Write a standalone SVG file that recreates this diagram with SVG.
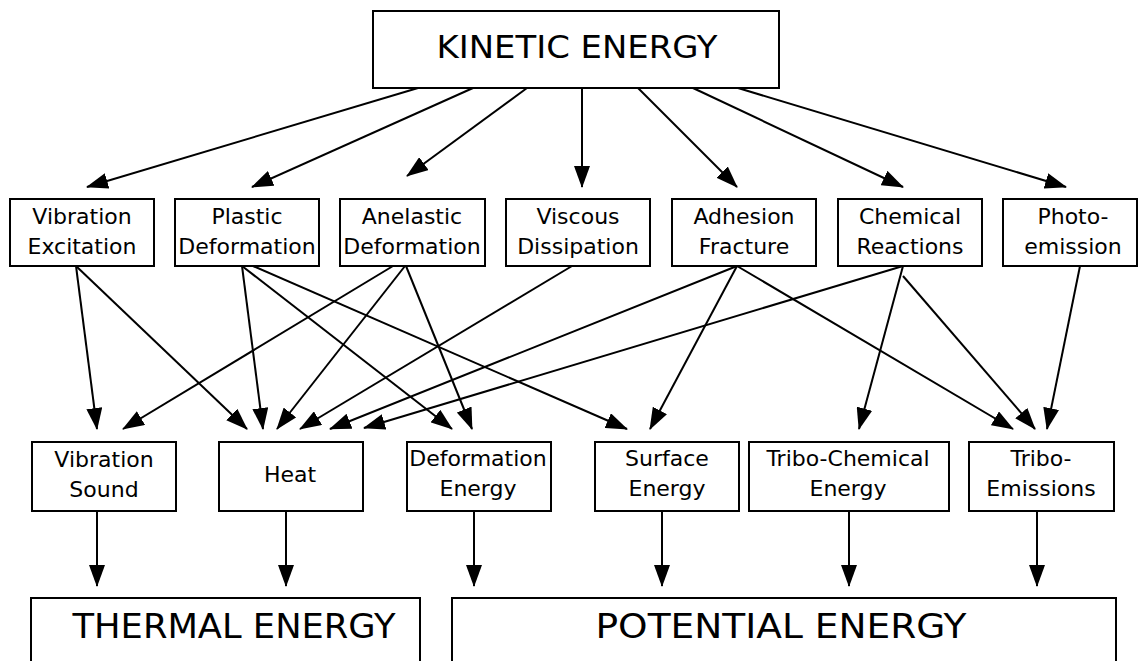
<svg xmlns="http://www.w3.org/2000/svg" width="1140" height="661" viewBox="0 0 1140 661">
<style>
.box{fill:#fff;stroke:#000;stroke-width:2}
.t{font-family:"DejaVu Sans","Liberation Sans",sans-serif;font-size:22px;fill:#000;text-anchor:middle}
.big{font-size:32px}
.huge{font-size:34px}
.c{fill:none;stroke:#000;stroke-width:2;marker-end:url(#ah)}
</style>
<defs>
<marker id="ah" markerUnits="userSpaceOnUse" markerWidth="22" markerHeight="16" refX="21" refY="8" orient="auto" viewBox="0 0 22 16"><path d="M0,0 L22,8 L0,16 z" fill="#000"/></marker>
</defs>
<rect width="1140" height="661" fill="#fff"/>
<g id="connectors">
<line class="c" x1="418" y1="88" x2="87" y2="187"/>
<line class="c" x1="473" y1="88" x2="252" y2="187"/>
<line class="c" x1="527" y1="88" x2="407" y2="176"/>
<line class="c" x1="582" y1="88" x2="582" y2="187"/>
<line class="c" x1="638" y1="88" x2="737" y2="187"/>
<line class="c" x1="693" y1="88" x2="903" y2="187"/>
<line class="c" x1="738" y1="88" x2="1066" y2="187"/>
<line class="c" x1="76" y1="266" x2="97" y2="429"/>
<line class="c" x1="76" y1="266" x2="247" y2="429"/>
<line class="c" x1="242" y1="266" x2="263" y2="429"/>
<line class="c" x1="242" y1="266" x2="452" y2="429"/>
<line class="c" x1="253" y1="266" x2="627" y2="429"/>
<line class="c" x1="393" y1="266" x2="123" y2="429"/>
<line class="c" x1="405" y1="266" x2="277" y2="429"/>
<line class="c" x1="406" y1="266" x2="472" y2="429"/>
<line class="c" x1="572" y1="266" x2="300" y2="429"/>
<line class="c" x1="737" y1="266" x2="330" y2="429"/>
<line class="c" x1="737" y1="266" x2="650" y2="429"/>
<line class="c" x1="737" y1="266" x2="1013" y2="429"/>
<line class="c" x1="903" y1="266" x2="364" y2="428"/>
<line class="c" x1="903" y1="266" x2="859" y2="429"/>
<line class="c" x1="903" y1="276" x2="1035" y2="429"/>
<line class="c" x1="1080" y1="266" x2="1047" y2="429"/>
<line class="c" x1="97" y1="511" x2="97" y2="586"/>
<line class="c" x1="286" y1="511" x2="286" y2="586"/>
<line class="c" x1="474" y1="511" x2="474" y2="586"/>
<line class="c" x1="662" y1="511" x2="662" y2="586"/>
<line class="c" x1="849" y1="511" x2="849" y2="586"/>
<line class="c" x1="1037" y1="511" x2="1037" y2="586"/>
</g>
<g id="kinetic"><rect class="box" x="373" y="11" width="406" height="77"/><text class="t big" x="577" y="58" textLength="281" lengthAdjust="spacingAndGlyphs">KINETIC ENERGY</text></g>
<g id="vib-exc"><rect class="box" x="10" y="199" width="144" height="67"/><text class="t" x="82" y="224">Vibration</text><text class="t" x="82" y="254">Excitation</text></g>
<g id="plastic"><rect class="box" x="175" y="199" width="144" height="67"/><text class="t" x="247" y="224">Plastic</text><text class="t" x="247" y="254">Deformation</text></g>
<g id="anelastic"><rect class="box" x="340" y="199" width="145" height="67"/><text class="t" x="412" y="224">Anelastic</text><text class="t" x="412" y="254">Deformation</text></g>
<g id="viscous"><rect class="box" x="506" y="199" width="144" height="67"/><text class="t" x="578" y="224">Viscous</text><text class="t" x="578" y="254">Dissipation</text></g>
<g id="adhesion"><rect class="box" x="672" y="199" width="144" height="67"/><text class="t" x="744" y="224">Adhesion</text><text class="t" x="744" y="254">Fracture</text></g>
<g id="chemical"><rect class="box" x="838" y="199" width="144" height="67"/><text class="t" x="910" y="224">Chemical</text><text class="t" x="910" y="254">Reactions</text></g>
<g id="photo"><rect class="box" x="1003" y="199" width="134" height="67"/><text class="t" x="1073" y="224">Photo-</text><text class="t" x="1073" y="254">emission</text></g>
<g id="vib-sound"><rect class="box" x="32" y="442" width="144" height="69"/><text class="t" x="104" y="467">Vibration</text><text class="t" x="104" y="497">Sound</text></g>
<g id="heat"><rect class="box" x="219" y="442" width="144" height="69"/><text class="t" x="290" y="482">Heat</text></g>
<g id="deform-energy"><rect class="box" x="407" y="442" width="144" height="69"/><text class="t" x="478" y="466">Deformation</text><text class="t" x="478" y="496">Energy</text></g>
<g id="surface"><rect class="box" x="595" y="442" width="144" height="69"/><text class="t" x="667" y="466">Surface</text><text class="t" x="667" y="496">Energy</text></g>
<g id="tribo-chem"><rect class="box" x="749" y="442" width="200" height="69"/><text class="t" x="848" y="466" font-size="21">Tribo-Chemical</text><text class="t" x="848" y="496">Energy</text></g>
<g id="tribo-em"><rect class="box" x="969" y="442" width="145" height="69"/><text class="t" x="1041" y="466">Tribo-</text><text class="t" x="1041" y="496">Emissions</text></g>
<g id="thermal"><rect class="box" x="31" y="598" width="389" height="80"/><text class="t huge" x="234" y="638" textLength="323" lengthAdjust="spacingAndGlyphs">THERMAL ENERGY</text></g>
<g id="potential"><rect class="box" x="452" y="598" width="664" height="80"/><text class="t huge" x="781" y="638" textLength="371" lengthAdjust="spacingAndGlyphs">POTENTIAL ENERGY</text></g>
</svg>
